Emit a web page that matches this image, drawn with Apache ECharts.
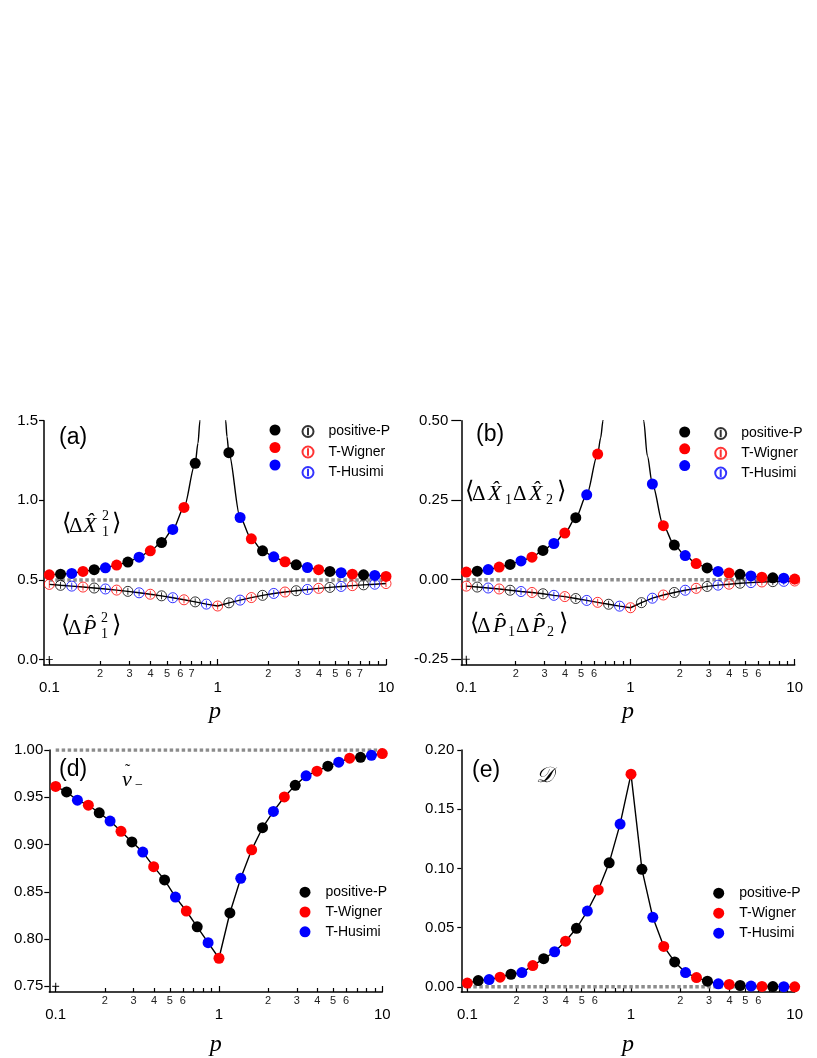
<!DOCTYPE html>
<html>
<head>
<meta charset="utf-8">
<script src="https://cdn.jsdelivr.net/npm/echarts@6/dist/echarts.min.js"></script>
<style>
html, body { margin: 0; padding: 0; background: #fff; }
#chart { width: 817px; height: 1058px; }
</style>
</head>
<body>
<div id="chart"></div>
<script>
// p values of the simulated points (shared by all panels)
const pGrid = [0.1, 0.1166, 0.1359, 0.1585, 0.1848, 0.2154, 0.2512, 0.2929, 0.3415, 0.3981,
  0.4642, 0.5412, 0.631, 0.7356, 0.8577, 1, 1.166, 1.359, 1.585, 1.848,
  2.154, 2.512, 2.929, 3.415, 3.981, 4.642, 5.412, 6.31, 7.356, 8.577, 10];
// which method produced each point, cycling along pGrid
const methodCycle = ['T-Wigner', 'positive-P', 'T-Husimi'];
const methodNames = ['positive-P', 'T-Wigner', 'T-Husimi'];
const methodColors = ['#000000', '#ff0000', '#0000ff'];

// x tick positions and labels
const majorTicks = [0.1, 1, 10];
const minorTicks = [0.2, 0.3, 0.4, 0.5, 0.6, 0.7, 0.8, 0.9, 2, 3, 4, 5, 6, 7, 8, 9];
const minorLabelsA = [0.2, 0.3, 0.4, 0.5, 0.6, 0.7, 2, 3, 4, 5, 6, 7];
const minorLabelsB = [0.2, 0.3, 0.4, 0.5, 0.6, 2, 3, 4, 5, 6];

// (a) <dX1^2> (filled) and <dP1^2> (open)
const aX = [0.532, 0.536, 0.541, 0.553, 0.564, 0.576, 0.593, 0.612, 0.643, 0.683,
  0.735, 0.817, 0.955, 1.232, null, null, 1.299, 0.892, 0.758, 0.683,
  0.645, 0.614, 0.595, 0.578, 0.564, 0.553, 0.545, 0.536, 0.532, 0.528, 0.522];
const aP = [0.472, 0.466, 0.461, 0.455, 0.449, 0.443, 0.436, 0.428, 0.419, 0.410,
  0.400, 0.388, 0.375, 0.362, 0.348, 0.336, 0.356, 0.373, 0.389, 0.403,
  0.415, 0.424, 0.432, 0.440, 0.447, 0.453, 0.459, 0.464, 0.469, 0.473, 0.477];
const aXPoleLeft = [[0.764, 1.358], [0.785, 1.5], [0.80, 1.66]];
const aXPoleRight = [[1.10, 1.66], [1.116, 1.5], [1.136, 1.40]];
const aRef = 0.5;

// (b) <dX1 dX2> (filled) and <dP1 dP2> (open)
const bX = [0.024, 0.027, 0.032, 0.040, 0.048, 0.059, 0.071, 0.092, 0.114, 0.147,
  0.195, 0.267, 0.395, null, null, null, null, 0.301, 0.170, 0.109,
  0.076, 0.051, 0.037, 0.026, 0.021, 0.017, 0.012, 0.008, 0.006, 0.005, 0.002];
const bP = [-0.020, -0.023, -0.026, -0.029, -0.033, -0.037, -0.040, -0.044, -0.049, -0.053,
  -0.059, -0.065, -0.071, -0.077, -0.083, -0.088, -0.072, -0.058, -0.048, -0.040,
  -0.033, -0.027, -0.021, -0.017, -0.014, -0.011, -0.009, -0.007, -0.006, -0.005, -0.004];
const bXPoleLeft = [[0.658, 0.446], [0.680, 0.5], [0.69, 0.54]];
const bXPoleRight = [[1.19, 0.54], [1.203, 0.5], [1.266, 0.39]];
const bRef = 0;

// (d) nu_minus
const dNu = [0.9615, 0.9556, 0.9469, 0.9416, 0.9336, 0.9248, 0.914, 0.9028, 0.892, 0.8766,
  0.8626, 0.8444, 0.8297, 0.8129, 0.7962, 0.7797, 0.8276, 0.8643, 0.8944, 0.9178,
  0.935, 0.9503, 0.9626, 0.9727, 0.9776, 0.9829, 0.9871, 0.9913, 0.9923, 0.9944, 0.9962];
const dRef = 1;

// (e) D
const eD = [0.0031, 0.0053, 0.0061, 0.0081, 0.0106, 0.012, 0.0179, 0.0237, 0.0296, 0.0385,
  0.0494, 0.064, 0.0818, 0.1047, 0.1374, 0.1796, 0.0992, 0.0587, 0.0341, 0.021,
  0.012, 0.0078, 0.0047, 0.0025, 0.002, 0.0011, 0.0006, 0.0003, 0.0002, 0.0001, 0];
const eRef = 0;

const lg = Math.log10;
const openSymbol = 'path://M10,0A10,10,0,1,1,-10,0A10,10,0,1,1,10,0ZM0,-7L0,7';
const plusSymbol = 'path://M-5,0L5,0M0,-5L0,5';
const SANS = '"Liberation Sans", Arial, sans-serif';
const SERIF = '"Liberation Serif", "DejaVu Serif", serif';

const panels = [
  { left: 44, top: 420.7, width: 342, height: 244.3, xMin: -1.0315, yMin: -0.0345, yMax: 1.5,
    yTicks: [0, 0.5, 1, 1.5], yDigits: 1, yTickLen: 5, yMargin: 6, minorLabels: minorLabelsA, nameGap: 35,
    filled: aX, poles: [aXPoleLeft, aXPoleRight], open: aP, ref: aRef, cornerY: 0,
    legend: { filledX: 275, openX: 307, rowTop: 424.5, gap: 6.5 } },
  { left: 461.3, top: 420.7, width: 333.4, height: 244.3, xMin: -1.0305, yMin: -0.268, yMax: 0.5,
    yTicks: [-0.25, 0, 0.25, 0.5], yDigits: 2, yTickLen: 10, yMargin: 13, minorLabels: minorLabelsB, nameGap: 35,
    filled: bX, poles: [bXPoleLeft, bXPoleRight], open: bP, ref: bRef, cornerY: -0.25,
    legend: { filledX: 684.7, openX: 719.7, rowTop: 426.5, gap: 5.8 } },
  { left: 49.3, top: 750, width: 333, height: 244, xMin: -1.039, yMin: 0.744, yMax: 1.0,
    yTicks: [0.75, 0.8, 0.85, 0.9, 0.95, 1.0], yDigits: 2, yTickLen: 5, yMargin: 6, minorLabels: minorLabelsB, nameGap: 41,
    filled: dNu, poles: null, open: null, ref: dRef, cornerY: 0.75,
    legend: { filledX: 305, openX: null, rowTop: 885.2, gap: 5.8 } },
  { left: 461.3, top: 750, width: 333.4, height: 244, xMin: -1.0367, yMin: -0.0044, yMax: 0.2,
    yTicks: [0, 0.05, 0.1, 0.15, 0.2], yDigits: 2, yTickLen: 4, yMargin: 7, minorLabels: minorLabelsB, nameGap: 41,
    filled: eD, poles: null, open: null, ref: eRef, cornerY: 0,
    legend: { filledX: 718.7, openX: null, rowTop: 886.2, gap: 6 } }
];

const option = {
  animation: false,
  backgroundColor: '#ffffff',
  grid: [], xAxis: [], yAxis: [], series: [], legend: [], graphic: []
};

function pointsOf(values, method) {
  const out = [];
  pGrid.forEach((p, i) => {
    if (values[i] == null) return;
    if (method && methodCycle[i % 3] !== method) return;
    out.push([lg(p), values[i]]);
  });
  return out;
}

function lineSeries(g, data, style) {
  return {
    type: 'line', xAxisIndex: g * 2, yAxisIndex: g, data: data, symbol: 'none',
    silent: true, clip: true, z: style.z, lineStyle: style.lineStyle,
    smooth: style.smooth || false, smoothMonotone: 'x'
  };
}

panels.forEach((cfg, g) => {
  option.grid.push({ left: cfg.left, top: cfg.top, width: cfg.width, height: cfg.height });
  const base = { type: 'value', gridIndex: g, min: cfg.xMin, max: 1, position: 'bottom', splitLine: { show: false } };
  option.xAxis.push(Object.assign({}, base, {
    axisLine: { onZero: false, lineStyle: { color: '#000', width: 1.5 } },
    axisTick: { inside: true, length: 6, customValues: majorTicks.map(lg), lineStyle: { color: '#000', width: 1.2 } },
    axisLabel: { customValues: majorTicks.map(lg), margin: 15, fontSize: 15, color: '#000', fontFamily: SANS,
      formatter: v => String(Math.round(Math.pow(10, v) * 10) / 10) },
    name: 'p', nameLocation: 'middle', nameGap: cfg.nameGap,
    nameTextStyle: { fontFamily: SERIF, fontStyle: 'italic', fontSize: 24, color: '#000' }
  }));
  option.xAxis.push(Object.assign({}, base, {
    axisLine: { show: false, onZero: false },
    axisTick: { inside: true, length: 4, customValues: minorTicks.map(lg), lineStyle: { color: '#000', width: 1.2 } },
    axisLabel: { customValues: cfg.minorLabels.map(lg), margin: 3, fontSize: 11, color: '#222', fontFamily: SANS,
      formatter: v => { const p = Math.pow(10, v); return String(Math.round(p < 1 ? p * 10 : p)); } }
  }));
  option.yAxis.push({
    type: 'value', gridIndex: g, min: cfg.yMin, max: cfg.yMax, splitLine: { show: false },
    axisLine: { show: true, onZero: false, lineStyle: { color: '#000', width: 1.5 } },
    axisTick: { show: true, length: cfg.yTickLen, customValues: cfg.yTicks, lineStyle: { color: '#000', width: 1.2 } },
    axisLabel: { customValues: cfg.yTicks, margin: cfg.yMargin, fontSize: 15, color: '#000', fontFamily: SANS,
      formatter: v => v.toFixed(cfg.yDigits) }
  });

  // dotted reference level
  option.series.push(lineSeries(g, [[lg(0.1), cfg.ref], [lg(10), cfg.ref]],
    { z: 1, lineStyle: { color: '#8c8c8c', width: 3.5, type: [3.5, 2.5] } }));

  // theory curves
  const black = { z: 2, lineStyle: { color: '#000', width: 1.4 } };
  if (cfg.poles) {
    const firstGap = cfg.filled.indexOf(null);
    const lastGap = cfg.filled.lastIndexOf(null);
    const left = pGrid.slice(0, firstGap).map((p, i) => [lg(p), cfg.filled[i]])
      .concat(cfg.poles[0].map(d => [lg(d[0]), d[1]]));
    const right = cfg.poles[1].map(d => [lg(d[0]), d[1]])
      .concat(pGrid.slice(lastGap + 1).map((p, i) => [lg(p), cfg.filled[lastGap + 1 + i]]));
    const curved = Object.assign({ smooth: 0.3 }, black);
    option.series.push(lineSeries(g, left, curved), lineSeries(g, right, curved));
  } else {
    option.series.push(lineSeries(g, pointsOf(cfg.filled), black));
  }
  if (cfg.open) option.series.push(lineSeries(g, pointsOf(cfg.open), black));

  // simulated points
  methodNames.forEach((m, k) => {
    option.series.push({
      type: 'scatter', name: m, xAxisIndex: g * 2, yAxisIndex: g, data: pointsOf(cfg.filled, m),
      symbol: 'circle', symbolSize: 11, z: 4, silent: true,
      itemStyle: { color: methodColors[k], opacity: 1 }
    });
    if (cfg.open) {
      option.series.push({
        type: 'scatter', name: m + ' (open)', xAxisIndex: g * 2, yAxisIndex: g, data: pointsOf(cfg.open, m),
        symbol: openSymbol, symbolSize: 10, z: 4, silent: true,
        itemStyle: { color: 'rgba(0,0,0,0)', borderColor: methodColors[k], borderWidth: 1 }
      });
    }
  });

  // small cross at the lower-left corner
  option.series.push({
    type: 'scatter', xAxisIndex: g * 2, yAxisIndex: g, data: [[lg(0.1), cfg.cornerY]],
    symbol: plusSymbol, symbolSize: 7, z: 3, silent: true,
    itemStyle: { color: 'rgba(0,0,0,0)', borderColor: '#000', borderWidth: 1.2 }
  });

  // legends
  const L = cfg.legend;
  const legendBase = {
    orient: 'vertical', top: L.rowTop, itemWidth: 11, itemHeight: 11, itemGap: L.gap,
    selectedMode: false, padding: 0,
    textStyle: { fontSize: 14, fontFamily: SANS, color: '#000', padding: [0, 0, 0, 10] }
  };
  if (L.openX != null) {
    option.legend.push(Object.assign({}, legendBase, { left: L.filledX - 5.5, data: methodNames, formatter: () => '' }));
    option.legend.push(Object.assign({}, legendBase, { left: L.openX - 5.5,
      data: methodNames.map(m => m + ' (open)'), formatter: n => n.replace(' (open)', '') }));
  } else {
    option.legend.push(Object.assign({}, legendBase, { left: L.filledX - 5.5, data: methodNames }));
  }
});

// panel letters and quantity labels
function txt(text, x, y, font, fill) {
  return { type: 'text', x: x, y: y, silent: true,
    style: { text: text, font: font, fill: fill || '#000', align: 'left', verticalAlign: 'middle' } };
}
const letterFont = '23px ' + SANS;
const mathFont = 'italic 22px ' + SERIF;
const upFont = '21px ' + SERIF;
const brFont = '24px "DejaVu Sans", sans-serif';
const scriptFont = '14px ' + SERIF;
option.graphic.push(
  txt('(a)', 59, 438, letterFont), txt('(b)', 476, 435, letterFont),
  txt('(d)', 59, 770, letterFont), txt('(e)', 472, 771, letterFont),
  // (a)
  txt('\u27E8', 62, 524, brFont), txt('\u0394', 69, 526, upFont), txt('X\u0302', 83, 526, mathFont),
  txt('2', 102, 516, scriptFont), txt('1', 102, 532, scriptFont), txt('\u27E9', 112, 524, brFont),
  txt('\u27E8', 61, 626, brFont), txt('\u0394', 68, 628, upFont), txt('P\u0302', 83, 628, mathFont),
  txt('2', 101, 618, scriptFont), txt('1', 101, 634, scriptFont), txt('\u27E9', 112, 626, brFont),
  // (b)
  txt('\u27E8', 465, 492, brFont), txt('\u0394', 472, 494, upFont), txt('X\u0302', 488, 494, mathFont),
  txt('1', 505, 500, scriptFont), txt('\u0394', 513, 494, upFont), txt('X\u0302', 529, 494, mathFont),
  txt('2', 546, 500, scriptFont), txt('\u27E9', 557, 492, brFont),
  txt('\u27E8', 470, 624, brFont), txt('\u0394', 477, 626, upFont), txt('P\u0302', 493, 626, mathFont),
  txt('1', 508, 632, scriptFont), txt('\u0394', 516, 626, upFont), txt('P\u0302', 532, 626, mathFont),
  txt('2', 547, 632, scriptFont), txt('\u27E9', 559, 624, brFont),
  // (d), (e)
  txt('\u03BD', 122, 780, mathFont), txt('\u02DC', 125, 771, '16px ' + SERIF), txt('\u2212', 135, 785, scriptFont),
  txt('\uD835\uDC9F', 536, 776, mathFont)
);

const chart = echarts.init(document.getElementById('chart'), null, { renderer: 'canvas' });
chart.setOption(option);
window.onresize = function () { chart.resize(); };
</script>
</body>
</html>
